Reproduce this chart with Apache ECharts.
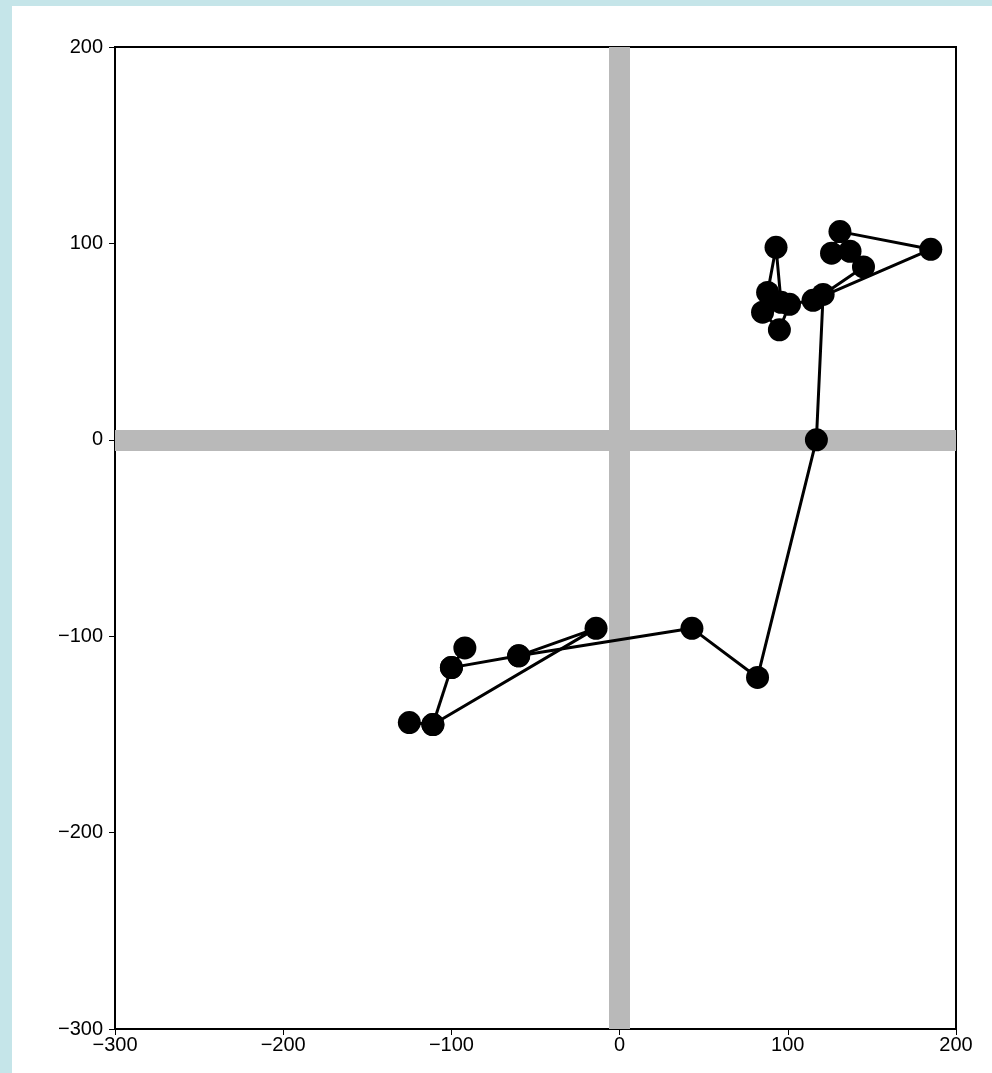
<!DOCTYPE html>
<html>
<head>
<meta charset="utf-8">
<script src="https://cdn.jsdelivr.net/npm/echarts@6/dist/echarts.min.js"></script>
<style>
  html, body { margin: 0; padding: 0; background: #c5e5e9; width: 992px; height: 1073px; overflow: hidden; }
  #panel { position: absolute; left: 12px; top: 6px; width: 980px; height: 1067px; background: #ffffff; }
</style>
</head>
<body>
<div id="panel"></div>
<script>
// Main track: from the upper-right cluster down to the lower-left group
const mainX = [96, 93, 88, 85, 95, 101, 115, 185, 131, 126, 137, 145, 121,
               117, 82, 43, -60, -100, -92];
const mainY = [70, 98, 75, 65, 56, 69, 71, 97, 106, 95, 96, 88, 74,
               0, -121, -96, -110, -116, -106];
// Side tracks in the lower-left group
const sideAX = [-125, -111, -14, -60];
const sideAY = [-144, -145, -96, -110];
const sideBX = [-111, -100];
const sideBY = [-145, -116];
const axisTicks = [-300, -200, -100, 0, 100, 200];

const pairs = (xs, ys) => xs.map((x, i) => [x, ys[i]]);
const fmt = v => String(v).replace('-', '\u2212');

const chart = echarts.init(document.getElementById('panel'), null, { renderer: 'canvas' });
const labelFont = { color: '#000', fontFamily: 'Liberation Sans, Arial, sans-serif', fontSize: 20, formatter: fmt };
const axisCommon = {
  type: 'value',
  min: axisTicks[0],
  max: axisTicks[axisTicks.length - 1],
  interval: 100,
  splitLine: { show: false },
  axisLine: { show: true, onZero: false, lineStyle: { color: '#000', width: 2 } },
  axisTick: { show: true, length: 6, lineStyle: { color: '#000', width: 1 } }
};
const track = (data, extra) => Object.assign({
  type: 'line',
  data: data,
  z: 3,
  symbol: 'circle',
  symbolSize: 23,
  itemStyle: { color: '#000' },
  lineStyle: { color: '#000', width: 3 }
}, extra || {});

chart.setOption({
  animation: false,
  grid: { left: 103, top: 41, right: 36, bottom: 44, show: true, borderColor: '#000', borderWidth: 2, backgroundColor: '#fff' },
  xAxis: Object.assign({}, axisCommon, { axisLabel: Object.assign({}, labelFont, { margin: 6 }) }),
  yAxis: Object.assign({}, axisCommon, { axisLabel: Object.assign({}, labelFont, { margin: 12 }) }),
  series: [
    track(pairs(mainX, mainY), {
      markLine: {
        silent: true,
        symbol: 'none',
        label: { show: false },
        lineStyle: { color: '#b9b9b9', width: 21, type: 'solid' },
        z: 1,
        data: [{ xAxis: 0 }, { yAxis: 0 }]
      }
    }),
    track(pairs(sideAX, sideAY)),
    track(pairs(sideBX, sideBY))
  ]
});
</script>
</body>
</html>
